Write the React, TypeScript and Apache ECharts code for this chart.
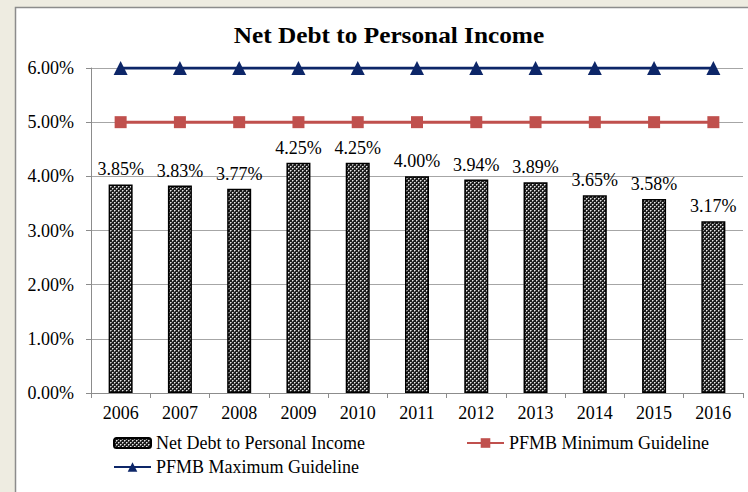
import React, { useEffect, useRef } from "react";
import * as echarts from "echarts";

const years = ["2006", "2007", "2008", "2009", "2010", "2011", "2012", "2013", "2014", "2015", "2016"];
const netDebt = [3.85, 3.83, 3.77, 4.25, 4.25, 4.0, 3.94, 3.89, 3.65, 3.58, 3.17];
const minGuideline = [5, 5, 5, 5, 5, 5, 5, 5, 5, 5, 5];
const maxGuideline = [6, 6, 6, 6, 6, 6, 6, 6, 6, 6, 6];
const yTicks = [0, 1, 2, 3, 4, 5, 6];

const SERIF = '"Liberation Serif", "Times New Roman", serif';

function makePattern() {
  const c = document.createElement("canvas");
  c.width = 4;
  c.height = 4;
  const ctx = c.getContext("2d");
  if (ctx) {
    ctx.fillStyle = "#1e1e1e";
    ctx.fillRect(0, 0, 4, 4);
    ctx.fillStyle = "#e8e8e8";
    ctx.fillRect(0, 0, 1, 1);
    ctx.fillRect(2, 2, 1, 1);
    ctx.fillStyle = "#8a8a8a";
    ctx.fillRect(1, 0, 1, 1);
    ctx.fillRect(0, 1, 1, 1);
    ctx.fillRect(3, 2, 1, 1);
    ctx.fillRect(2, 3, 1, 1);
  }
  return c;
}

export default function App() {
  const ref = useRef<HTMLDivElement>(null);
  useEffect(() => {
    if (!ref.current) return;
    const chart = echarts.init(ref.current, null, { renderer: "svg" });
    const pattern = makePattern();
    const patternColor: any = { image: pattern, repeat: "repeat", imageWidth: 4, imageHeight: 4 };
    const legendText = { fontFamily: SERIF, fontSize: 18, color: "#000" };
    chart.setOption({
      animation: false,
      backgroundColor: "#EEECE1",
      graphic: [
        {
          type: "rect",
          z: -100,
          shape: { x: 15.5, y: 7.5, width: 800, height: 600 },
          style: { fill: "#fff", stroke: "#8c8c8c", lineWidth: 1.5 },
        },
        {
          type: "text",
          x: 389,
          y: 35,
          scaleX: 1.1,
          style: {
            text: "Net Debt to Personal Income",
            font: `bold 23px ${SERIF}`,
            fill: "#000",
            textAlign: "center",
            textVerticalAlign: "middle",
          },
        },
      ],
      grid: { left: 91, right: 5, top: 68, bottom: 99, containLabel: false },
      legend: [
        {
          data: ["Net Debt to Personal Income"],
          left: 113,
          top: 434,
          padding: 0,
          itemWidth: 37,
          itemHeight: 10,
          itemGap: 3,
          textStyle: legendText,
        },
        {
          data: ["PFMB Minimum Guideline"],
          left: 466,
          top: 434,
          padding: 0,
          itemWidth: 37,
          itemHeight: 12,
          textStyle: legendText,
        },
        {
          data: ["PFMB Maximum Guideline"],
          left: 113,
          top: 458,
          padding: 0,
          itemWidth: 37,
          itemHeight: 12,
          textStyle: legendText,
        },
      ],
      xAxis: {
        type: "category",
        data: years,
        boundaryGap: true,
        axisLine: { lineStyle: { color: "#8c8c8c", width: 1 } },
        axisTick: { show: true, length: 5, lineStyle: { color: "#8c8c8c" } },
        axisLabel: { fontFamily: SERIF, fontSize: 18, color: "#000", margin: 11 },
      },
      yAxis: {
        type: "value",
        min: yTicks[0],
        max: yTicks[yTicks.length - 1],
        interval: 1,
        axisLine: { show: true, lineStyle: { color: "#8c8c8c", width: 1 } },
        axisTick: { show: true, length: 5, lineStyle: { color: "#8c8c8c" } },
        axisLabel: {
          fontFamily: SERIF,
          fontSize: 18,
          color: "#000",
          margin: 17,
          formatter: (v: number) => v.toFixed(2) + "%",
        },
        splitLine: { lineStyle: { color: "#a6a6a6", width: 1 } },
      },
      series: [
        {
          name: "Net Debt to Personal Income",
          type: "bar",
          data: netDebt,
          barWidth: 24,
          itemStyle: { color: patternColor, borderColor: "#000", borderWidth: 1.5 },
          label: {
            show: true,
            position: "top",
            distance: 6,
            fontFamily: SERIF,
            fontSize: 18,
            color: "#000",
            formatter: (p: any) => p.value.toFixed(2) + "%",
          },
          z: 2,
        },
        {
          name: "PFMB Minimum Guideline",
          type: "line",
          data: minGuideline,
          symbol: "rect",
          symbolSize: 12,
          lineStyle: { color: "#C0504D", width: 3 },
          itemStyle: { color: "#C0504D" },
          z: 3,
        },
        {
          name: "PFMB Maximum Guideline",
          type: "line",
          data: maxGuideline,
          symbol: "triangle",
          symbolSize: 14,
          lineStyle: { color: "#0D2668", width: 3 },
          itemStyle: { color: "#0D2668" },
          z: 4,
        },
      ],
    });
    return () => chart.dispose();
  }, []);
  return <div ref={ref} style={{ position: "fixed", left: 0, top: 0, width: 748, height: 492 }} />;
}
